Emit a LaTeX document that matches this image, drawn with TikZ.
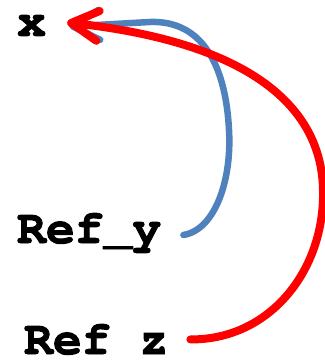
\documentclass[tikz,border=0pt]{standalone}
\usepackage{fontspec}
\setmonofont[BoldFeatures={FakeBold=2}]{TeX Gyre Cursor}
\usetikzlibrary{arrows.meta}
\definecolor{refMavi}{HTML}{4F81BD}
\definecolor{refKirmizi}{HTML}{FF0000}
\tikzset{
  lbl/.style={font=\ttfamily\bfseries\fontsize{48}{50}\selectfont,inner sep=0pt,anchor=base west},
  bluelink/.style={refMavi,line width=6.5pt,line cap=round,-{Straight Barb[round,length=27pt,width=30pt]}},
  redlink/.style={refKirmizi,line width=8pt,line cap=round,-{Straight Barb[round,length=27pt,width=30pt]}}
}
\begin{document}
\begin{tikzpicture}[x=1pt,y=-1pt]
\useasboundingbox (0,0) rectangle (324,363);
\node[lbl] (x) at (17,36) {x};
\node[lbl] (refy) at (17,243) {Ref\_y};
\node[lbl] (refz) at (24,354) {Ref z};
\draw[bluelink] ([xshift=22pt,yshift=-2pt]refy.east) .. controls (215,230) and (232,180) .. (229,130)
  .. controls (226,70) and (205,20) .. (150,22) -- ([xshift=23pt,yshift=-1pt]x.east);
\draw[redlink] ([xshift=22pt]refz.east) .. controls (270,340) and (325,270) .. (323,190)
  .. controls (322,120) and (270,45) .. ([xshift=21pt,yshift=3pt]x.east);
\end{tikzpicture}
\end{document}
